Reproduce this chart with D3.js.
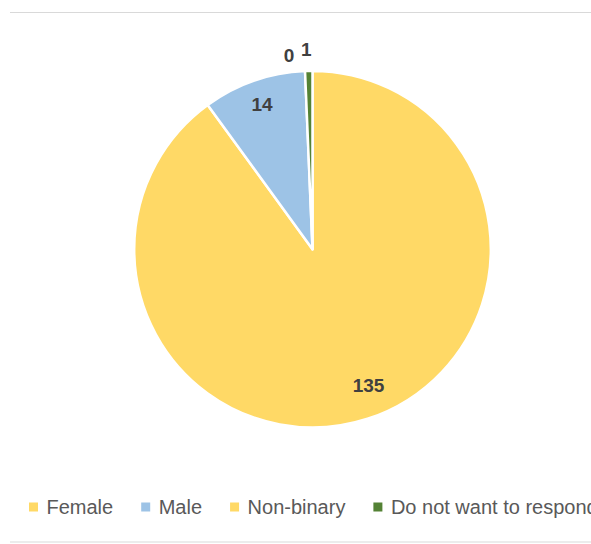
<!DOCTYPE html>
<html>
<head>
<meta charset="utf-8">
<script src="https://cdn.jsdelivr.net/npm/d3@7"></script>
<style>
  html, body { margin: 0; padding: 0; background: #fff; }
  svg { display: block; }
</style>
</head>
<body>
<svg id="chart" width="591" height="544"></svg>
<script>
// Survey responses by gender
const categories = ["Female", "Male", "Non-binary", "Do not want to respond"];
const values = [135, 14, 0, 1];
const colors = ["#FFD966", "#9DC3E6", "#FFD966", "#548235"];

const width = 591, height = 544;
const cx = 312.5, cy = 249.2, radius = 178.3;

const svg = d3.select("#chart");

// thin frame lines above and below the chart area
svg.append("line").attr("x1", 10).attr("x2", width).attr("y1", 12.5).attr("y2", 12.5)
  .attr("stroke", "#d9d9d9").attr("stroke-width", 1.2);
svg.append("line").attr("x1", 10).attr("x2", width).attr("y1", 542).attr("y2", 542)
  .attr("stroke", "#d9d9d9").attr("stroke-width", 1.2);

const data = categories.map((c, i) => ({ name: c, value: values[i], color: colors[i] }));

const pie = d3.pie().value(d => d.value).sort(null);
const arcs = pie(data);
const arc = d3.arc().innerRadius(0).outerRadius(radius);

const g = svg.append("g").attr("transform", `translate(${cx},${cy})`);

g.selectAll("path.slice")
  .data(arcs.filter(d => d.data.value > 0))
  .join("path")
  .attr("class", "slice")
  .attr("d", arc)
  .attr("fill", d => d.data.color)
  .attr("stroke", "#fff")
  .attr("stroke-width", 2.5)
  .attr("stroke-linejoin", "round");

// value labels: inside for large slices, outside for tiny ones
const labelFont = "'Liberation Sans', Arial, sans-serif";
const total = d3.sum(values);
arcs.forEach(d => {
  const mid = (d.startAngle + d.endAngle) / 2;
  const share = d.value / total;
  let r, dx = 0, anchor = "middle";
  if (share > 0.5) {
    r = 0.8 * radius; dx = 12;
  } else if (share > 0.05) {
    r = 0.86 * radius;
  } else if (d.value === 0) {
    r = radius + 16; dx = -10; anchor = "end";
  } else {
    r = radius + 22; dx = -2;
  }
  const x = Math.sin(mid) * r + dx;
  const y = -Math.cos(mid) * r;
  g.append("text")
    .attr("x", x)
    .attr("y", y)
    .attr("dy", "0.36em")
    .attr("text-anchor", anchor)
    .attr("font-family", labelFont)
    .attr("font-weight", "bold")
    .attr("font-size", 19)
    .attr("fill", "#404040")
    .text(d.data.value);
});

// legend along the bottom
const legend = svg.append("g").attr("transform", "translate(29,507)");
let lx = 0;
data.forEach(d => {
  const item = legend.append("g").attr("transform", `translate(${lx},0)`);
  item.append("rect").attr("x", 0).attr("y", -4.5).attr("width", 9).attr("height", 9)
    .attr("fill", d.color);
  const t = item.append("text")
    .attr("x", 17.5).attr("y", 0).attr("dy", "0.36em")
    .attr("font-family", labelFont)
    .attr("font-size", 20)
    .attr("fill", "#595959")
    .text(d.name);
  lx += 17.5 + t.node().getComputedTextLength() + 28;
});
</script>
</body>
</html>
